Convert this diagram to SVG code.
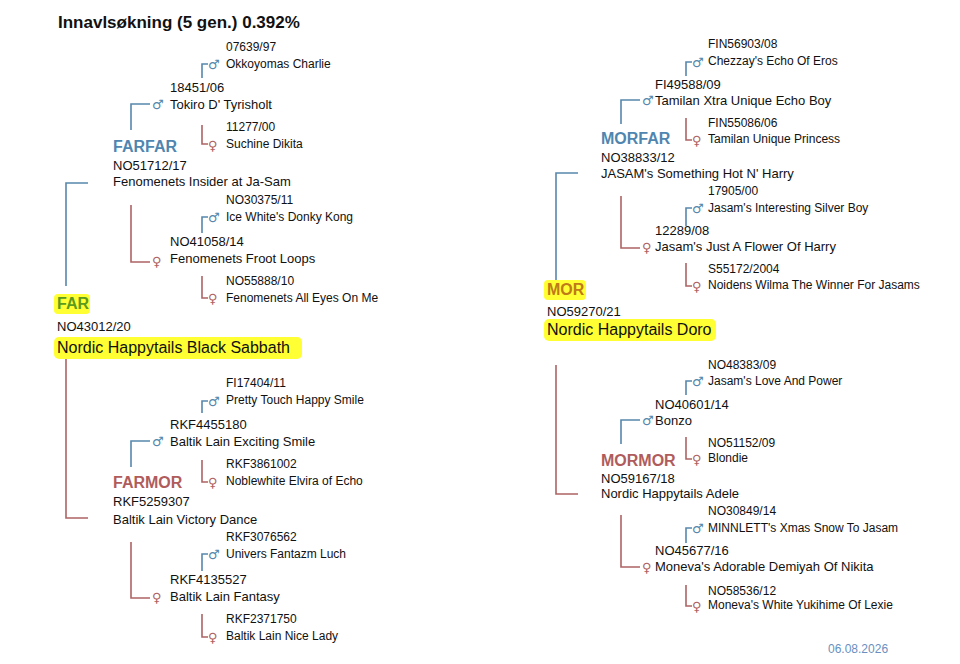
<svg xmlns="http://www.w3.org/2000/svg" width="960" height="664" viewBox="0 0 960 664">
<style>
text{font-family:"Liberation Sans",Arial,sans-serif;fill:#111}
.t{font-size:13px}.s{font-size:12px}
.b{stroke:#5688ad;stroke-width:1.6;fill:none}.r{stroke:#ad6363;stroke-width:1.6;fill:none}
.m{font-family:"DejaVu Sans",sans-serif;font-size:13px;fill:#5688ad}.f{font-family:"DejaVu Sans",sans-serif;font-size:13px;fill:#ad6363}
.lb{font-size:16px;font-weight:bold;fill:#4f86b0}.lr{font-size:16px;font-weight:bold;fill:#b05c5c}
.hl{fill:#ffff33}
</style>
<rect width="960" height="664" fill="#fff"/>
<text x="58" y="28" style="font-size:17px;font-weight:bold">Innavlsøkning (5 gen.) 0.392%</text>
<g id="connectors">
<path class="b" d="M66 286V183H88"/><path class="r" d="M66 355V518H88"/>
<path class="b" d="M131 130V104H150"/><path class="r" d="M131 205V262H150"/>
<path class="b" d="M202 78V64H208"/><path class="r" d="M202 125V144H208"/>
<path class="b" d="M202 233V217H208"/><path class="r" d="M202 276V298H208"/>
<path class="b" d="M131 467V441H150"/><path class="r" d="M131 542V598H150"/>
<path class="b" d="M202 413V401H208"/><path class="r" d="M202 460V482H208"/>
<path class="b" d="M202 571V554H208"/><path class="r" d="M202 614V637H208"/>
<path class="b" d="M556 286V173H578"/><path class="r" d="M556 365V494H578"/>
<path class="b" d="M621 124V100H640"/><path class="r" d="M621 196V248H640"/>
<path class="b" d="M686 76V62H692"/><path class="r" d="M686 118V140H692"/>
<path class="b" d="M686 226V208H692"/><path class="r" d="M686 263V286H692"/>
<path class="b" d="M621 444V420H640"/><path class="r" d="M621 515V567H640"/>
<path class="b" d="M686 395V381H692"/><path class="r" d="M686 437V459H692"/>
<path class="b" d="M686 543V528H692"/><path class="r" d="M686 585V606H692"/>
</g>
<g id="far"><rect class="hl" x="54" y="294" width="36" height="20" rx="4"/><text x="57" y="309" style="font-size:16px;font-weight:bold;fill:#5a9a1e">FAR</text>
<text x="57" y="331" class="t">NO43012/20</text><rect class="hl" x="54" y="337" width="248" height="22" rx="5"/><text x="57" y="353" style="font-size:16px">Nordic Happytails Black Sabbath</text></g>
<g id="farfar"><text x="113" y="152" class="lb">FARFAR</text><text x="113" y="170" class="t">NO51712/17</text><text x="113" y="186" class="t">Fenomenets Insider at Ja-Sam</text></g>
<g id="n1"><text x="152" y="109" class="m">♂</text><text x="170" y="92" class="t">18451/06</text><text x="170" y="109" class="t">Tokiro D' Tyrisholt</text></g>
<g id="n2"><text x="208" y="69" class="m">♂</text><text x="226" y="51" class="s">07639/97</text><text x="226" y="68" class="s">Okkoyomas Charlie</text></g>
<g id="n3"><text x="208" y="150" class="f">♀</text><text x="226" y="131" class="s">11277/00</text><text x="226" y="148" class="s">Suchine Dikita</text></g>
<g id="n4"><text x="152" y="266" class="f">♀</text><text x="170" y="246" class="t">NO41058/14</text><text x="170" y="263" class="t">Fenomenets Froot Loops</text></g>
<g id="n5"><text x="208" y="222" class="m">♂</text><text x="226" y="204" class="s">NO30375/11</text><text x="226" y="221" class="s">Ice White's Donky Kong</text></g>
<g id="n6"><text x="208" y="303" class="f">♀</text><text x="226" y="285" class="s">NO55888/10</text><text x="226" y="302" class="s">Fenomenets All Eyes On Me</text></g>
<g id="farmor"><text x="113" y="488" class="lr">FARMOR</text><text x="113" y="506" class="t">RKF5259307</text><text x="113" y="524" class="t">Baltik Lain Victory Dance</text></g>
<g id="n7"><text x="152" y="446" class="m">♂</text><text x="170" y="429" class="t">RKF4455180</text><text x="170" y="446" class="t">Baltik Lain Exciting Smile</text></g>
<g id="n8"><text x="208" y="406" class="m">♂</text><text x="226" y="387" class="s">FI17404/11</text><text x="226" y="404" class="s">Pretty Touch Happy Smile</text></g>
<g id="n9"><text x="208" y="487" class="f">♀</text><text x="226" y="468" class="s">RKF3861002</text><text x="226" y="485" class="s">Noblewhite Elvira of Echo</text></g>
<g id="n10"><text x="152" y="602" class="f">♀</text><text x="170" y="584" class="t">RKF4135527</text><text x="170" y="601" class="t">Baltik Lain Fantasy</text></g>
<g id="n11"><text x="208" y="559" class="m">♂</text><text x="226" y="541" class="s">RKF3076562</text><text x="226" y="558" class="s">Univers Fantazm Luch</text></g>
<g id="n12"><text x="208" y="642" class="f">♀</text><text x="226" y="623" class="s">RKF2371750</text><text x="226" y="640" class="s">Baltik Lain Nice Lady</text></g>
<g id="mor"><rect class="hl" x="544" y="280" width="42" height="20" rx="4"/><text x="547" y="295" style="font-size:16px;font-weight:bold;fill:#c07a18">MOR</text>
<text x="547" y="316" class="t">NO59270/21</text><rect class="hl" x="544" y="319" width="172" height="22" rx="5"/><text x="547" y="335" style="font-size:16px">Nordic Happytails Doro</text></g>
<g id="morfar"><text x="601" y="144" class="lb">MORFAR</text><text x="601" y="162" class="t">NO38833/12</text><text x="601" y="178" class="t">JASAM's Something Hot N' Harry</text></g>
<g id="n13"><text x="642" y="105" class="m">♂</text><text x="655" y="89" class="t">FI49588/09</text><text x="655" y="105" class="t">Tamilan Xtra Unique Echo Boy</text></g>
<g id="n14"><text x="692" y="67" class="m">♂</text><text x="708" y="48" class="s">FIN56903/08</text><text x="708" y="65" class="s">Chezzay's Echo Of Eros</text></g>
<g id="n15"><text x="692" y="145" class="f">♀</text><text x="708" y="127" class="s">FIN55086/06</text><text x="708" y="143" class="s">Tamilan Unique Princess</text></g>
<g id="n16"><text x="642" y="252" class="f">♀</text><text x="655" y="235" class="t">12289/08</text><text x="655" y="251" class="t">Jasam's Just A Flower Of Harry</text></g>
<g id="n17"><text x="692" y="213" class="m">♂</text><text x="708" y="195" class="s">17905/00</text><text x="708" y="212" class="s">Jasam's Interesting Silver Boy</text></g>
<g id="n18"><text x="692" y="291" class="f">♀</text><text x="708" y="273" class="s">S55172/2004</text><text x="708" y="289" class="s">Noidens Wilma The Winner For Jasams</text></g>
<g id="mormor"><text x="601" y="466" class="lr">MORMOR</text><text x="601" y="483" class="t">NO59167/18</text><text x="601" y="498" class="t">Nordic Happytails Adele</text></g>
<g id="n19"><text x="642" y="425" class="m">♂</text><text x="655" y="409" class="t">NO40601/14</text><text x="655" y="425" class="t">Bonzo</text></g>
<g id="n20"><text x="692" y="386" class="m">♂</text><text x="708" y="369" class="s">NO48383/09</text><text x="708" y="385" class="s">Jasam's Love And Power</text></g>
<g id="n21"><text x="692" y="464" class="f">♀</text><text x="708" y="447" class="s">NO51152/09</text><text x="708" y="462" class="s">Blondie</text></g>
<g id="n22"><text x="642" y="572" class="f">♀</text><text x="655" y="555" class="t">NO45677/16</text><text x="655" y="571" class="t">Moneva's Adorable Demiyah Of Nikita</text></g>
<g id="n23"><text x="692" y="533" class="m">♂</text><text x="708" y="515" class="s">NO30849/14</text><text x="708" y="532" class="s">MINNLETT's Xmas Snow To Jasam</text></g>
<g id="n24"><text x="692" y="611" class="f">♀</text><text x="708" y="595" class="s">NO58536/12</text><text x="708" y="609" class="s">Moneva's White Yukihime Of Lexie</text></g>
<text x="828" y="653" style="font-size:12px;fill:#6a8fc0">06.08.2026</text>
</svg>
